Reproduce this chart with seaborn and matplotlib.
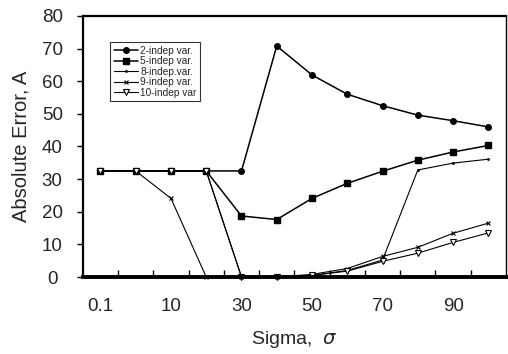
import matplotlib
matplotlib.use("Agg")
import matplotlib.pyplot as plt
import seaborn as sns
import pandas as pd
import numpy as np

categories = ["0.1", "1", "10", "20", "30", "40", "50", "60", "70", "80", "90", "100"]
shown_labels = ["0.1", "10", "30", "50", "70", "90"]

s2 = [32.5, 32.5, 32.5, 32.5, 32.5, 70.8, 61.9, 56.0, 52.5, 49.6, 47.9, 46.0]
s5 = [32.5, 32.5, 32.5, 32.5, 18.7, 17.6, 24.1, 28.7, 32.4, 35.8, 38.3, 40.3]
s8 = [32.5, 32.5, 32.5, 32.5, 0.0, 0.0, 0.5, 2.0, 5.2, 32.8, 34.9, 36.1]
s9 = [32.5, 32.5, 24.1, 0.0, 0.0, 0.0, 0.8, 2.6, 6.3, 9.1, 13.4, 16.5]
s10 = [32.5, 32.5, 32.5, 32.5, 0.0, 0.0, 0.5, 1.8, 4.8, 7.3, 10.6, 13.5]

series_names = ["2-indep var.", "5-indep var.", "8-indep.var.", "9-indep var.", "10-indep var"]
series_vals = [s2, s5, s8, s9, s10]

sns.set_theme(style="white")
plt.rcParams["font.family"] = ["Liberation Sans", "DejaVu Sans"]

fig = plt.figure(figsize=(5.08, 3.54), dpi=100)
ax = fig.add_axes([0.163, 0.2175, 0.833, 0.7375])

pos = np.arange(len(categories))
styles = [
    dict(marker="o", markersize=4, lw=1.1, mfc="black", mec="black"),
    dict(marker="s", markersize=5, lw=1.1, mfc="black", mec="black"),
    dict(marker=".", markersize=2, lw=0.8, mfc="black", mec="black"),
    dict(marker="x", markersize=3.5, lw=0.8, mfc="black", mec="black", mew=0.8),
    dict(marker="v", markersize=4, lw=0.8, mfc="white", mec="black", mew=0.8),
]
for name, vals, st in zip(series_names, series_vals, styles):
    df = pd.DataFrame({"pos": pos, "val": vals})
    sns.lineplot(data=df, x="pos", y="val", color="black", ax=ax, label=name,
                 marker=st["marker"], markersize=st["markersize"], linewidth=st["lw"],
                 markerfacecolor=st["mfc"], markeredgecolor=st["mec"],
                 markeredgewidth=st.get("mew", 1.0), clip_on=False, zorder=3)

ax.set_xlim(-0.5, len(categories) - 0.5)
ax.set_ylim(0, 80)
ax.set_yticks(np.arange(0, 81, 10))
ax.tick_params(axis="y", direction="out", length=4, width=1, labelsize=13.5, color="black", left=True)
for lab in ax.get_yticklabels():
    lab.set_horizontalalignment("center")
ax.tick_params(axis="y", pad=18)

major_pos = [categories.index(l) for l in shown_labels]
ax.set_xticks(major_pos)
ax.set_xticklabels(shown_labels)
ax.set_xticks(np.arange(0.5, len(categories) - 1, 1.0), minor=True)
ax.tick_params(axis="x", which="major", length=0, labelsize=13.5, pad=15)
ax.tick_params(axis="x", which="minor", direction="in", length=5, width=1, bottom=True, color="black")

for side in ["left", "right", "top"]:
    ax.spines[side].set_visible(True)
    ax.spines[side].set_color("black")
    ax.spines[side].set_linewidth(1.6)
ax.spines["bottom"].set_visible(True)
ax.spines["bottom"].set_color("black")
ax.spines["bottom"].set_linewidth(2.8)
ax.spines["bottom"].set_zorder(4)
ax.spines["right"].set_linewidth(1.0)

ax.set_xlabel("Sigma,  $\\sigma$", fontsize=14, labelpad=10)
ax.set_ylabel("Absolute Error, A", fontsize=14.5, labelpad=8)

leg = ax.legend(loc="upper left", bbox_to_anchor=(0.065, 0.9), fontsize=7.3, frameon=True,
                fancybox=False, edgecolor="black", handlelength=2.4, handletextpad=0.2,
                borderpad=0.35, labelspacing=0.05, borderaxespad=0)
leg.get_frame().set_linewidth(0.8)

fig.savefig("out.png", dpi=100)
